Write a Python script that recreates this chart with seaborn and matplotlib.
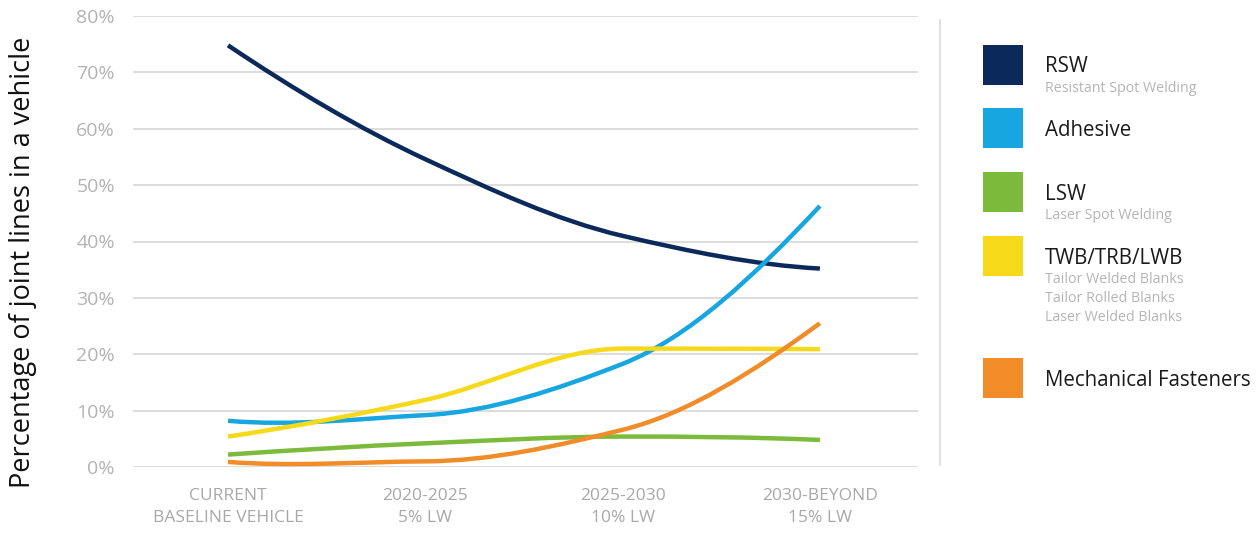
import numpy as np
import pandas as pd
import matplotlib
matplotlib.use("Agg")
import matplotlib.pyplot as plt
from matplotlib.path import Path
from matplotlib.patches import PathPatch, Rectangle
from matplotlib.lines import Line2D
import seaborn as sns

# ---------------- data ----------------
categories = ["CURRENT\nBASELINE VEHICLE", "2020-2025\n5% LW", "2025-2030\n10% LW", "2030-BEYOND\n15% LW"]
rsw = [74.8, 54.6, 41.0, 35.2]
adhesive = [8.2, 9.2, 18.3, 46.3]
lsw = [2.2, 4.2, 5.4, 4.8]
twb = [5.4, 11.9, 21.0, 20.9]
mech = [0.9, 1.0, 6.6, 25.5]

series_names = ["RSW", "Adhesive", "LSW", "TWB/TRB/LWB", "Mechanical Fasteners"]
series_subtitles = ["Resistant Spot Welding", "", "Laser Spot Welding",
                    "Tailor Welded Blanks\nTailor Rolled Blanks\nLaser Welded Blanks", ""]
colors = ["#0b2a5b", "#17a6e0", "#7cba3b", "#f6d918", "#f28c28"]
y_ticks = [0, 10, 20, 30, 40, 50, 60, 70, 80]

values = [rsw, adhesive, lsw, twb, mech]
df = pd.DataFrame({
    "pos": np.tile(np.arange(len(categories)), len(series_names)),
    "value": np.concatenate(values),
    "method": np.repeat(series_names, len(categories)),
})

# ---------------- figure ----------------
W, H = 1257, 535
fig = plt.figure(figsize=(W / 100, H / 100), dpi=100)
sns.set_style("white")
plt.rcParams["font.family"] = ["Open Sans", "DejaVu Sans"]

ax = fig.add_axes([133 / W, (H - 467) / H, (918 - 133) / W, (467 - 16) / H])
sns.lineplot(data=df, x="pos", y="value", hue="method", hue_order=series_names,
             palette=colors, linewidth=0, legend=False, ax=ax)


def pchip_slopes(x, y):
    x = np.asarray(x, float); y = np.asarray(y, float)
    h = np.diff(x); d = np.diff(y) / h
    n = len(x); m = np.zeros(n)
    for k in range(1, n - 1):
        if d[k - 1] * d[k] <= 0:
            m[k] = 0.0
        else:
            w1 = 2 * h[k] + h[k - 1]; w2 = h[k] + 2 * h[k - 1]
            m[k] = (w1 + w2) / (w1 / d[k - 1] + w2 / d[k])

    def end(h0, h1, d0, d1):
        s = ((2 * h0 + h1) * d0 - h0 * d1) / (h0 + h1)
        if np.sign(s) == np.sign(d0) and np.sign(d0) != np.sign(d1) and abs(s) > abs(3 * d0):
            s = 3 * d0
        return s
    m[0] = end(h[0], h[1], d[0], d[1])
    m[-1] = end(h[-1], h[-2], d[-1], d[-2])
    return m


def smooth_path(x, y):
    m = pchip_slopes(x, y)
    verts = [(x[0], y[0])]
    codes = [Path.MOVETO]
    for i in range(len(x) - 1):
        hh = x[i + 1] - x[i]
        verts += [(x[i] + hh / 3, y[i] + m[i] * hh / 3),
                  (x[i + 1] - hh / 3, y[i + 1] - m[i + 1] * hh / 3),
                  (x[i + 1], y[i + 1])]
        codes += [Path.CURVE4] * 3
    return Path(verts, codes)


xs = np.arange(len(categories), dtype=float)
for name, vals, col in zip(series_names, values, colors):
    patch = PathPatch(smooth_path(xs, vals), facecolor="none", edgecolor=col,
                      linewidth=3.2, capstyle="butt", zorder=3, clip_on=False)
    ax.add_patch(patch)

for t in y_ticks:
    ax.axhline(t, color="#dadada", linewidth=1.3, zorder=1)

ax.set_xlim((133 - 228) / 197.3, (918 - 228) / 197.3)
ax.set_ylim(0, 80)
ax.set_yticks(y_ticks)
ax.set_yticklabels([f"{t}%" for t in y_ticks])
ax.set_xticks(xs)
ax.set_xticklabels(categories, linespacing=1.5)
ax.tick_params(axis="y", length=0, pad=13, labelsize=14, labelcolor="#b3b3b3")
ax.tick_params(axis="x", length=0, pad=15, labelsize=12.5, labelcolor="#a8a8a8")
for s in ax.spines.values():
    s.set_visible(False)
ax.set_xlabel("")
ax.set_ylabel("")
ax.grid(False)

fig.text(23 / W, 1 - 262 / H, "Percentage of joint lines in a vehicle",
         rotation=90, ha="center", va="center", fontsize=19.5, color="#111111")

# separator
fig.add_artist(Line2D([940 / W, 940 / W], [1 - 20 / H, 1 - 465 / H],
                      transform=fig.transFigure, color="#e2e2e2", linewidth=1.5))

# legend
sw_top = [45, 108, 172, 236, 358]
for name, sub, col, top in zip(series_names, series_subtitles, colors, sw_top):
    fig.add_artist(Rectangle((983 / W, 1 - (top + 40) / H), 40 / W, 40 / H,
                             transform=fig.transFigure, facecolor=col, edgecolor="none"))
    fig.text(1045 / W, 1 - (top + 22) / H, name, ha="left", va="center",
             fontsize=14.8, color="#1a1a1a")
    if sub:
        fig.text(1045 / W, 1 - (top + 36) / H, sub, ha="left", va="top",
                 fontsize=10.3, color="#b5b5b5", linespacing=1.38)

fig.savefig("out.png", dpi=100)
